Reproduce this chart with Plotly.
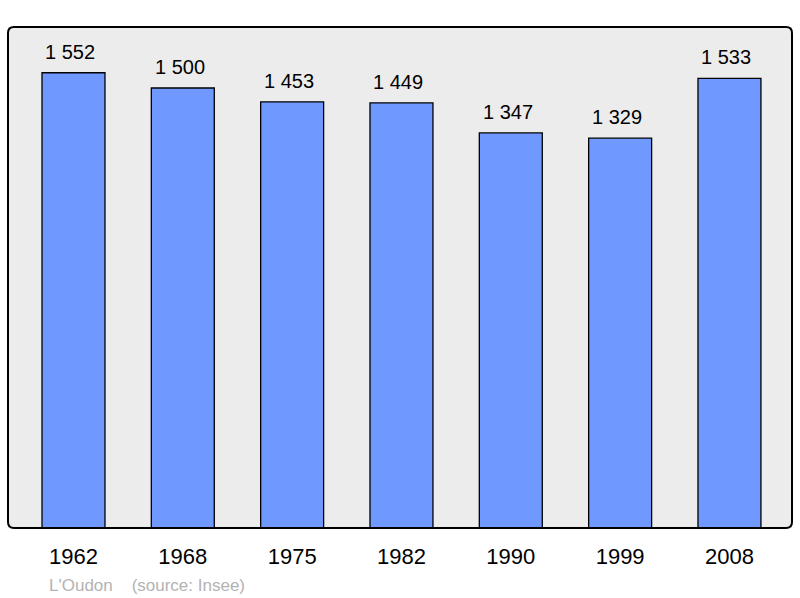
import plotly.graph_objects as go

years = ["1962", "1968", "1975", "1982", "1990", "1999", "2008"]
population = [1552, 1500, 1453, 1449, 1347, 1329, 1533]
value_labels = ["1 552", "1 500", "1 453", "1 449", "1 347", "1 329", "1 533"]

xs = list(range(len(years)))

fig = go.Figure()
fig.add_trace(go.Bar(
    x=xs, y=population, width=0.576,
    marker=dict(color="#7099ff", line=dict(color="#000000", width=1.3)),
    hoverinfo="skip",
))

for x, v, lab in zip(xs, population, value_labels):
    fig.add_annotation(x=x, y=v, text=lab, showarrow=False, yshift=21, xshift=-3,
                       font=dict(family="Liberation Sans, Arial", size=20, color="#000"))

W, H = 784, 501
r = 6
rx, ry = r / W, r / H
path = (f"M {rx},0 L {1-rx},0 Q 1,0 1,{ry} L 1,{1-ry} Q 1,1 {1-rx},1 "
        f"L {rx},1 Q 0,1 0,{1-ry} L 0,{ry} Q 0,0 {rx},0 Z")
fig.add_shape(type="path", path=path, xref="paper", yref="paper",
              line=dict(color="#000", width=2), layer="above")

fig.add_annotation(x=0, y=0, xref="paper", yref="paper", xanchor="left", yanchor="top",
                   xshift=39, yshift=-46, showarrow=False,
                   text="L'Oudon    (source: Insee)",
                   font=dict(family="Liberation Sans, Arial", size=17, color="#b3b3b3"))

fig.update_layout(
    width=800, height=598,
    margin=dict(l=8, r=8, t=27, b=70),
    paper_bgcolor="#ffffff", plot_bgcolor="#ececec",
    showlegend=False,
    xaxis=dict(range=[-0.599, 6.572], tickvals=xs, ticktext=years, showgrid=False,
               zeroline=False, ticks="outside", ticklen=9, tickcolor="rgba(0,0,0,0)",
               tickfont=dict(family="Liberation Sans, Arial", size=22, color="#000")),
    yaxis=dict(range=[0, 1708], showgrid=False, zeroline=False, showticklabels=False),
)

fig.write_html("out.html", config={"displayModeBar": False},
               post_script="document.body.style.margin='0';document.body.style.overflow='hidden';")
